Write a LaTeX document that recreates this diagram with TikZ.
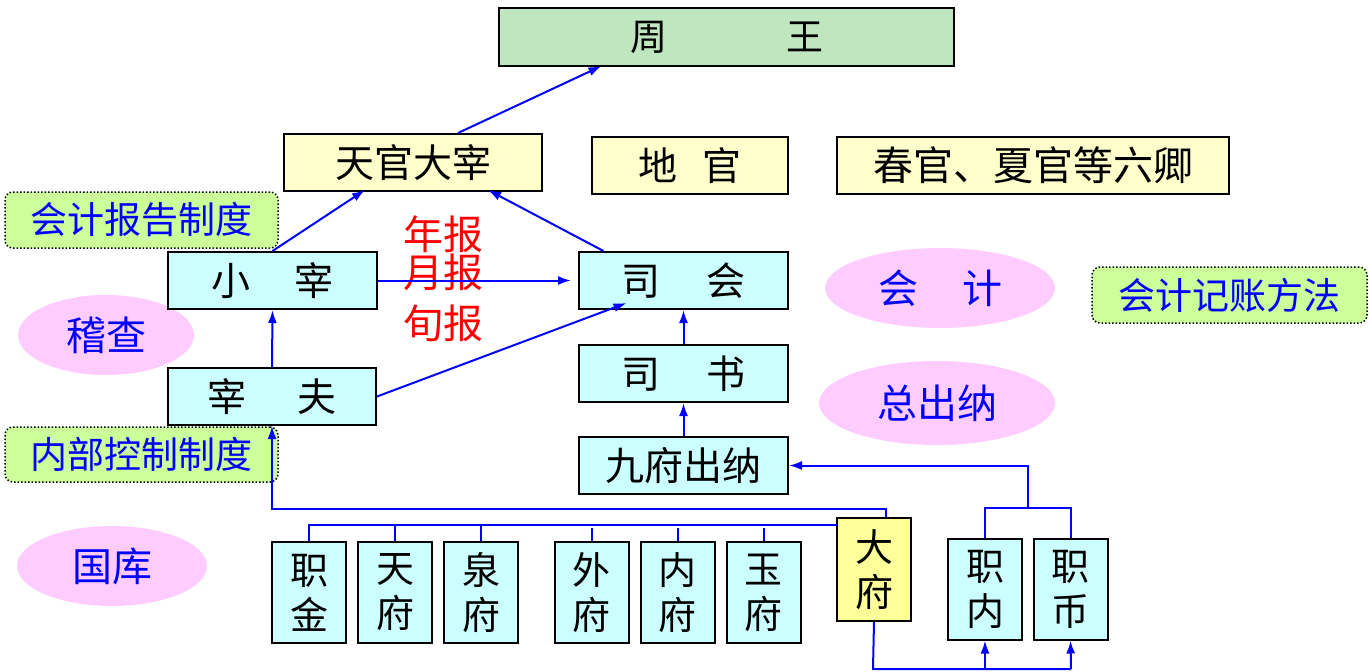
\documentclass[tikz,border=0pt]{standalone}
\usepackage{fontspec}
\newfontfamily\cjk{Noto Sans CJK SC}
\usetikzlibrary{arrows.meta,calc,shapes.geometric}
\definecolor{topgreen}{RGB}{192,230,192}
\definecolor{lyellow}{RGB}{255,255,204}
\definecolor{dyellow}{RGB}{255,255,153}
\definecolor{lcyan}{RGB}{204,255,255}
\definecolor{lgreen}{RGB}{204,255,153}
\definecolor{lpink}{RGB}{255,204,255}
\definecolor{lblue}{RGB}{0,0,255}
\tikzset{
  box/.style={draw=black, line width=2pt, inner sep=0pt, font=\cjk\fontsize{39}{42}\selectfont},
  cbox/.style={box, fill=lcyan},
  ybox/.style={box, fill=lyellow},
  vbox/.style={box, fill=lcyan, minimum width=74pt, minimum height=101pt, align=center, font=\cjk\fontsize{38}{45}\selectfont},
  note/.style={draw=black, line width=1.5pt, dotted, rounded corners=8pt, fill=lgreen, inner sep=0pt, text=lblue, font=\cjk\fontsize{37}{40}\selectfont},
  oval/.style={ellipse, fill=lpink, inner sep=0pt, text=lblue, font=\cjk\fontsize{40}{42}\selectfont},
  redt/.style={text=red, inner sep=0pt, font=\cjk\fontsize{40}{42}\selectfont},
  bl/.style={draw=lblue, line width=2pt},
  arr/.style={bl, -{Latex[length=13pt,width=9pt]}},
}
\begin{document}
\begin{tikzpicture}[x=1pt,y=-1pt]
\useasboundingbox (0,0) rectangle (1369,672);
% top row
\node[box, fill=topgreen, minimum width=455pt, minimum height=58pt, font=\cjk\fontsize{37}{40}\selectfont] (zw) at (726.5,37) {周\hspace{119pt}王};
\node[ybox, minimum width=258pt, minimum height=57pt] (tg) at (413,162.5) {天官大宰};
\node[ybox, minimum width=196pt, minimum height=57pt] (dg) at (690,165.5) {地\hspace{25pt}官};
\node[ybox, minimum width=392pt, minimum height=57pt, font=\cjk\fontsize{40}{42}\selectfont] (cg) at (1033,165.5) {春官、夏官等六卿};
% notes
\node[note, minimum width=273pt, minimum height=56pt] (n1) at (141.5,220) {会计报告制度\hspace{10pt}};
\node[note, minimum width=275pt, minimum height=56pt] (n2) at (1229.5,295) {会计记账方法};
\node[note, minimum width=273pt, minimum height=55pt] (n3) at (141.5,454.5) {内部控制制度\hspace{10pt}};
% ovals
\node[oval, minimum width=176pt, minimum height=80pt] (jc) at (106,335) {稽查};
\node[oval, minimum width=230pt, minimum height=80pt] (kj) at (940,288) {会\hspace{44pt}计};
\node[oval, minimum width=236pt, minimum height=84pt] (zc) at (937,403) {总出纳};
\node[oval, minimum width=190pt, minimum height=80pt] (gk) at (112,566) {国库};
% middle boxes
\node[cbox, minimum width=209pt, minimum height=57pt] (xz) at (272.5,280.5) {小\hspace{44pt}宰};
\node[cbox, minimum width=208pt, minimum height=57pt] (zf) at (272,396.5) {宰\hspace{52pt}夫};
\node[cbox, minimum width=209pt, minimum height=57pt] (sh) at (683.5,280.5) {司\hspace{46pt}会};
\node[cbox, minimum width=209pt, minimum height=57pt] (ss) at (683.5,373.5) {司\hspace{46pt}书};
\node[cbox, minimum width=209pt, minimum height=57pt] (jf) at (683.5,465.5) {九府出纳};
% red labels
\node[redt] (nb) at (443,234) {年报};
\node[redt] (yb) at (443,272) {月报};
\node[redt] (xb) at (443,323) {旬报};
% small boxes
\node[vbox] (zj) at (309,592.5) {职\\金};
\node[vbox] (tf) at (395,592.5) {天\\府};
\node[vbox] (qf) at (481,592.5) {泉\\府};
\node[vbox] (wf) at (591.5,592.5) {外\\府};
\node[vbox] (nf) at (677.5,592.5) {内\\府};
\node[vbox] (yf) at (763.5,592.5) {玉\\府};
\node[vbox, fill=dyellow, minimum height=103pt] (df) at (874,569.5) {大\\府};
\node[vbox, minimum height=101pt] (zn) at (985,589) {职\\内};
\node[vbox, minimum height=101pt] (zb) at (1070.5,589) {职\\币};
% upper connectors
\draw[arr] ([xshift=45pt]tg.north) -- ([xshift=-125pt,yshift=1pt]zw.south);
\draw[arr] (xz.north) -- ([xshift=-48pt,yshift=2pt]tg.south);
\draw[arr] ([xshift=-80pt]sh.north) -- ([xshift=75pt,yshift=2pt]tg.south);
\draw[arr, shorten >=7pt] (xz.east) -- (sh.west);
\draw[arr] (zf.east) -- ([xshift=-57pt,yshift=7pt]sh.south);
\draw[arr] (zf.north) -- (xz.south);
\draw[arr] (ss.north) -- (sh.south);
\draw[arr] (jf.north) -- (ss.south);
% lower connectors
\coordinate (bus) at (837,525);
\coordinate (up) at (886,509);
\coordinate (jn) at (1028,508);
\coordinate (bl) at (873,669);
\coordinate (br) at (1071,669);
\draw[arr] ([xshift=12pt]df.north) -- (up) -| (zf.south);
\draw[bl] (bus) -| (zj.north);
\draw[bl] (tf.north) -- (tf.north |- bus);
\draw[bl] (qf.north) -- (qf.north |- bus);
\draw[bl] (wf.north) -- ++(0,-13);
\draw[bl] (nf.north) -- ++(0,-13);
\draw[bl] (yf.north) -- ++(0,-13);
\draw[bl] (zn.north) |- (jn) -| (zb.north);
\draw[arr] (jn) |- (jf.east);
\draw[bl] (df.south) -- (bl) -- (br);
\draw[arr] (zn.south |- bl) -- (zn.south);
\draw[arr] (br) -- (zb.south);
\end{tikzpicture}
\end{document}
